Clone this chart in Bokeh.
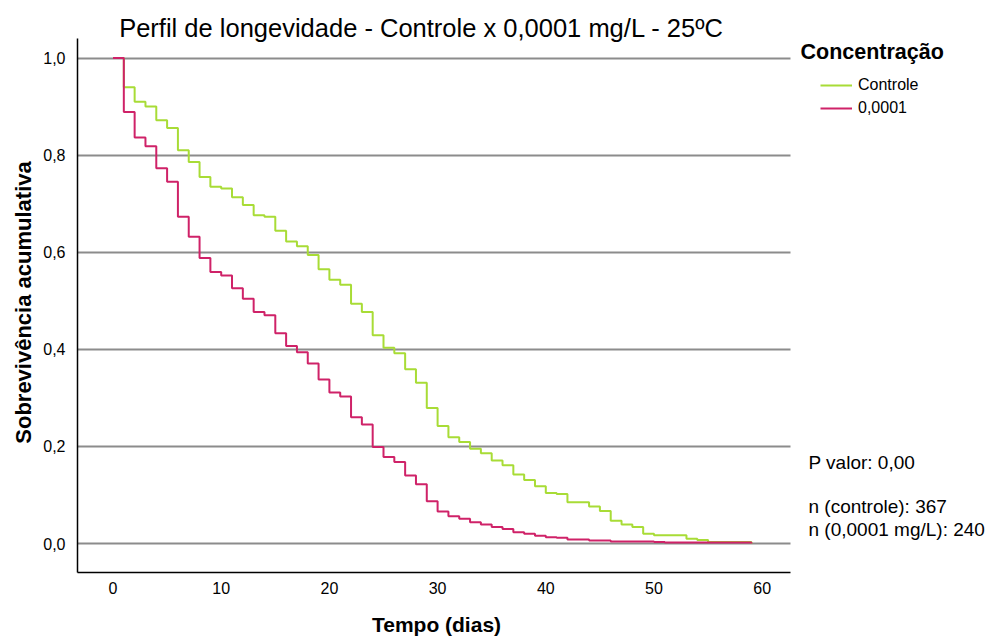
import math
from bokeh.plotting import figure
from bokeh.models import (Label, Legend, LegendItem, FixedTicker,
                          CustomJSTickFormatter, Range1d, LinearAxis, Grid)
from bokeh.embed import file_html
from bokeh.resources import INLINE

# ---------------- data ----------------
title_text = "Perfil de longevidade - Controle x 0,0001 mg/L - 25ºC"
x_label = "Tempo (dias)"
y_label = "Sobrevivência acumulativa"
legend_title = "Concentração"
series_names = ["Controle", "0,0001"]
annotations = ["P valor: 0,00", "n (controle): 367", "n (0,0001 mg/L): 240"]

days = list(range(0, 60))

controle = [
    1.000, 0.940, 0.910, 0.900, 0.872, 0.856, 0.810, 0.786, 0.755, 0.735,
    0.731, 0.713, 0.697, 0.676, 0.673, 0.644, 0.622, 0.612, 0.594, 0.565,
    0.543, 0.533, 0.494, 0.477, 0.429, 0.403, 0.392, 0.359, 0.331, 0.279,
    0.242, 0.219, 0.209, 0.195, 0.186, 0.171, 0.161, 0.142, 0.131, 0.118,
    0.104, 0.102, 0.085, 0.085, 0.076, 0.067, 0.047, 0.039, 0.034, 0.020,
    0.017, 0.017, 0.017, 0.010, 0.007, 0.003, 0.003, 0.003, 0.003, 0.000,
]

conc_0001 = [
    1.000, 0.889, 0.836, 0.818, 0.773, 0.745, 0.673, 0.632, 0.588, 0.559,
    0.552, 0.526, 0.504, 0.477, 0.470, 0.433, 0.407, 0.394, 0.371, 0.338,
    0.311, 0.303, 0.260, 0.245, 0.199, 0.178, 0.168, 0.140, 0.122, 0.087,
    0.066, 0.056, 0.051, 0.044, 0.039, 0.034, 0.030, 0.023, 0.020, 0.016,
    0.013, 0.012, 0.008, 0.008, 0.006, 0.006, 0.004, 0.004, 0.004, 0.004,
    0.003, 0.002, 0.002, 0.002, 0.002, 0.002, 0.002, 0.002, 0.002, 0.000,
]

x_ticks = [0, 10, 20, 30, 40, 50, 60]
y_ticks = [0.0, 0.2, 0.4, 0.6, 0.8, 1.0]

# ---------------- layout constants ----------------
FONT = "Liberation Sans"
GREEN = "#A8DC36"
RED = "#CF2268"
GRID = "#8c8c8c"

W, H = 995, 637
PX_PER_DAY = 10.82
X0_PX = 112.5          # canvas x of day 0
PX_PER_UNIT = 485.5
Y0_PX = 543.0          # canvas y of survival 0

def xd(px):
    return (px - X0_PX) / PX_PER_DAY

def yd(py):
    return (Y0_PX - py) / PX_PER_UNIT

# plot area in the reference: x 77..790, y 38..572
AX_LEFT, AX_RIGHT, AX_TOP, AX_BOTTOM = 77, 790, 38, 572

p = figure(width=W, height=H, output_backend="svg", toolbar_location=None,
           x_range=Range1d(xd(0), xd(W)), y_range=Range1d(yd(H), yd(0)),
           x_axis_type=None, y_axis_type=None, title=None,
           min_border_left=0, min_border_right=0, min_border_top=0,
           min_border_bottom=0, background_fill_color="white",
           border_fill_color="white")
p.outline_line_color = None

# axes fixed at the plot-area edges
xaxis = LinearAxis(fixed_location=yd(AX_BOTTOM), bounds=(xd(AX_LEFT), xd(AX_RIGHT)),
                   ticker=FixedTicker(ticks=x_ticks))
yaxis = LinearAxis(fixed_location=xd(AX_LEFT), bounds=(yd(AX_BOTTOM), yd(AX_TOP)),
                   ticker=FixedTicker(ticks=y_ticks),
                   formatter=CustomJSTickFormatter(code="return tick.toFixed(1).replace('.', ',');"))
for ax in (xaxis, yaxis):
    ax.major_tick_line_color = None
    ax.minor_tick_line_color = None
    ax.axis_line_color = "black"
    ax.axis_line_width = 1.5
    ax.major_label_text_font = FONT
    ax.major_label_text_font_size = "16px"
    ax.major_label_text_color = "black"
xaxis.major_label_standoff = 3
yaxis.major_label_standoff = 6
p.add_layout(xaxis, "below")
p.add_layout(yaxis, "left")

# horizontal grid lines limited to the plot area
ygrid = Grid(dimension=1, ticker=FixedTicker(ticks=y_ticks),
             grid_line_color=GRID, grid_line_width=2)
ygrid.cross_bounds = (xd(AX_LEFT), xd(AX_RIGHT))
ygrid.bounds = (yd(AX_BOTTOM), yd(AX_TOP))
p.add_layout(ygrid, "center")

# curves
r_ctrl = p.step(days, controle, mode="after", line_color=GREEN, line_width=2)
r_conc = p.step(days, conc_0001, mode="after", line_color=RED, line_width=2)

# legend (tuple location: left / bottom measured from the frame's bottom-left)
legend = Legend(items=[LegendItem(label=series_names[0], renderers=[r_ctrl]),
                       LegendItem(label=series_names[1], renderers=[r_conc])],
                location=(820, H - 118), border_line_color=None,
                background_fill_alpha=0, padding=0, margin=0,
                glyph_width=32, glyph_height=20, label_height=20,
                label_standoff=6, spacing=3,
                label_text_font=FONT, label_text_font_size="16px",
                label_text_color="black")
p.add_layout(legend, "center")

def canvas_label(x, y, text, size, bold=False, align="left", angle=0.0):
    return Label(x=x, y=y, x_units="canvas", y_units="canvas", text=text,
                 text_font=FONT, text_font_size=size,
                 text_font_style="bold" if bold else "normal",
                 text_align=align, text_baseline="middle", text_color="black",
                 angle=angle)

p.add_layout(canvas_label(421, 27, title_text, "25.5px", align="center"))
p.add_layout(canvas_label(436, 624, x_label, "21px", bold=True, align="center"))
p.add_layout(canvas_label(23, 302, y_label, "22px", bold=True, align="center",
                          angle=math.pi / 2))
p.add_layout(canvas_label(800, 51, legend_title, "21.5px", bold=True))
ann_y = [462, 506, 529]
for t, yy in zip(annotations, ann_y):
    p.add_layout(canvas_label(808, yy, t, "19px"))

open("out.html", "w").write(file_html(p, INLINE))
